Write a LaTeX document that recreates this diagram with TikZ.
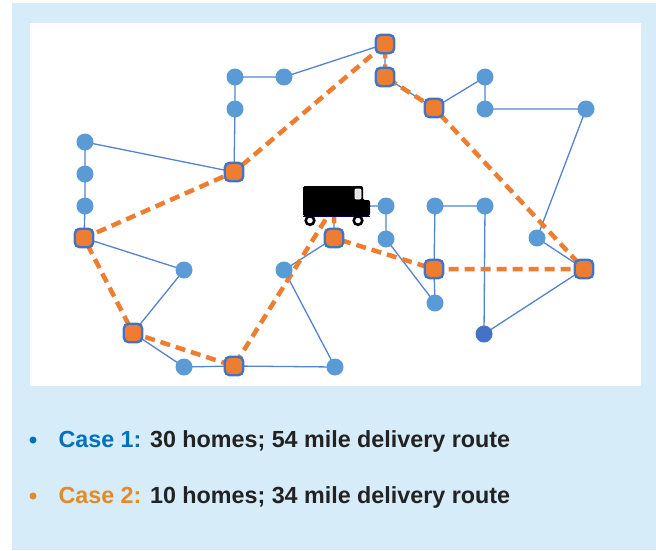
\documentclass[tikz,border=0pt]{standalone}
\usepackage{xcolor}
\usepackage{fontspec}
\setmainfont{Liberation Sans}
\usepackage{tikz}

\definecolor{panelblue}{RGB}{214,236,248}
\definecolor{dotblue}{RGB}{91,155,213}
\definecolor{lineblue}{RGB}{68,114,196}
\definecolor{legblue}{RGB}{84,131,210}
\definecolor{routeorange}{RGB}{237,125,49}
\definecolor{caseblue}{RGB}{0,112,192}
\definecolor{caseorange}{RGB}{226,137,40}
\definecolor{textdark}{RGB}{34,34,34}

\pgfdeclarelayer{bg}
\pgfdeclarelayer{edges}
\pgfsetlayers{bg,edges,main}

\begin{document}
\begin{tikzpicture}[x=1pt,y=-1pt,
  homedot/.style={circle,fill=dotblue,inner sep=0pt,minimum size=17pt},
  lastdot/.style={homedot,fill=lineblue},
  stopbox/.style={rectangle,rounded corners=5pt,fill=routeorange,draw=lineblue,line width=2.4pt,inner sep=0pt,minimum size=18.5pt},
  leg/.style={draw=legblue,line width=1.3pt},
  route/.style={draw=routeorange,line width=4.5pt,dash pattern=on 10pt off 6pt},
  bullet/.style={circle,inner sep=0pt,minimum size=7pt},
  caseline/.style={anchor=base west,text=textdark,font=\bfseries\fontsize{23.3}{27}\selectfont}]
\useasboundingbox (0,0) rectangle (656,550);
\begin{pgfonlayer}{bg}
\fill[panelblue] (12,3) rectangle (656,550);
\fill[white] (30,23) rectangle (641,386);
\end{pgfonlayer}

\coordinate (depot) at (334,206);
\node[homedot] (a) at (235,77) {};
\node[homedot] (b) at (284,77) {};
\node[homedot] (c) at (235,109) {};
\node[homedot] (d) at (85,142) {};
\node[homedot] (e) at (85,174) {};
\node[homedot] (f) at (85,206) {};
\node[homedot] (k) at (485,77) {};
\node[homedot] (l) at (485,109) {};
\node[homedot] (m) at (586,109) {};
\node[homedot] (n) at (386,206) {};
\node[homedot] (o) at (386,239) {};
\node[homedot] (p) at (435,206) {};
\node[homedot] (q) at (485,206) {};
\node[homedot] (t) at (435,303) {};
\node[lastdot] (u) at (484,334) {};
\node[homedot] (v) at (537,238) {};
\node[homedot] (x) at (335,367) {};
\node[homedot] (z) at (184,270) {};
\node[homedot] (ab) at (184,367) {};
\node[homedot] (ad) at (284,270) {};
\node[stopbox] (g) at (234,172) {};
\node[stopbox] (h) at (385,44) {};
\node[stopbox] (i) at (385,77) {};
\node[stopbox] (j) at (434,108) {};
\node[stopbox] (r) at (334,238) {};
\node[stopbox] (s) at (434,269) {};
\node[stopbox] (w) at (584,269) {};
\node[stopbox] (y) at (84,238) {};
\node[stopbox] (aa) at (133,333) {};
\node[stopbox] (ac) at (234,366) {};

\begin{pgfonlayer}{edges}
\draw[leg] (depot) -- (n.center) -- (o.center) -- (t.center) -- (s.center) -- (p.center) -- (q.center) -- (u.center) -- (w.center) -- (v.center) -- (m.center) -- (l.center) -- (k.center) -- (j.center) -- (i.center) -- (h.center) -- (b.center) -- (a.center) -- (c.center) -- (g.center) -- (d.center) -- (e.center) -- (f.center) -- (y.center) -- (z.center) -- (aa.center) -- (ab.center) -- (ac.center) -- (x.center) -- (ad.center) -- (r.center) -- (depot);
\draw[route] (depot) -- (ac.center) -- (aa.center) -- (y.center) -- (g.center) -- (h.center) -- (i.center) -- (j.center) -- (w.center) -- (s.center) -- (r.center) -- (depot);
\end{pgfonlayer}

% truck
\fill[black,rounded corners=1.5pt] (303,186) rectangle (353,216);
\fill[black,rounded corners=2pt] (351,186) -- (363,186) -- (363,200) -- (370,200) -- (370,216) -- (351,216) -- cycle;
\filldraw[fill=black!10,draw=white,line width=0.8pt,rounded corners=1pt] (355,189) rectangle (361,199);
\draw[black!60!blue,line width=0.8pt] (303,216.5) -- (370,216.5);
\filldraw[fill=white,draw=black,line width=2.6pt] (310,220.5) circle (4.3);
\filldraw[fill=white,draw=black,line width=2.6pt] (358,220.5) circle (4.3);

\node[bullet,fill=caseblue] (dot1) at (33,440) {};
\node[bullet,fill=caseorange] (dot2) at (33,496) {};
\node[caseline] (case1) at (55,447) {\textcolor{caseblue}{Case 1:} 30 homes; 54 mile delivery route};
\node[caseline] (case2) at (55,503) {\textcolor{caseorange}{Case 2:} 10 homes; 34 mile delivery route};
\end{tikzpicture}
\end{document}
